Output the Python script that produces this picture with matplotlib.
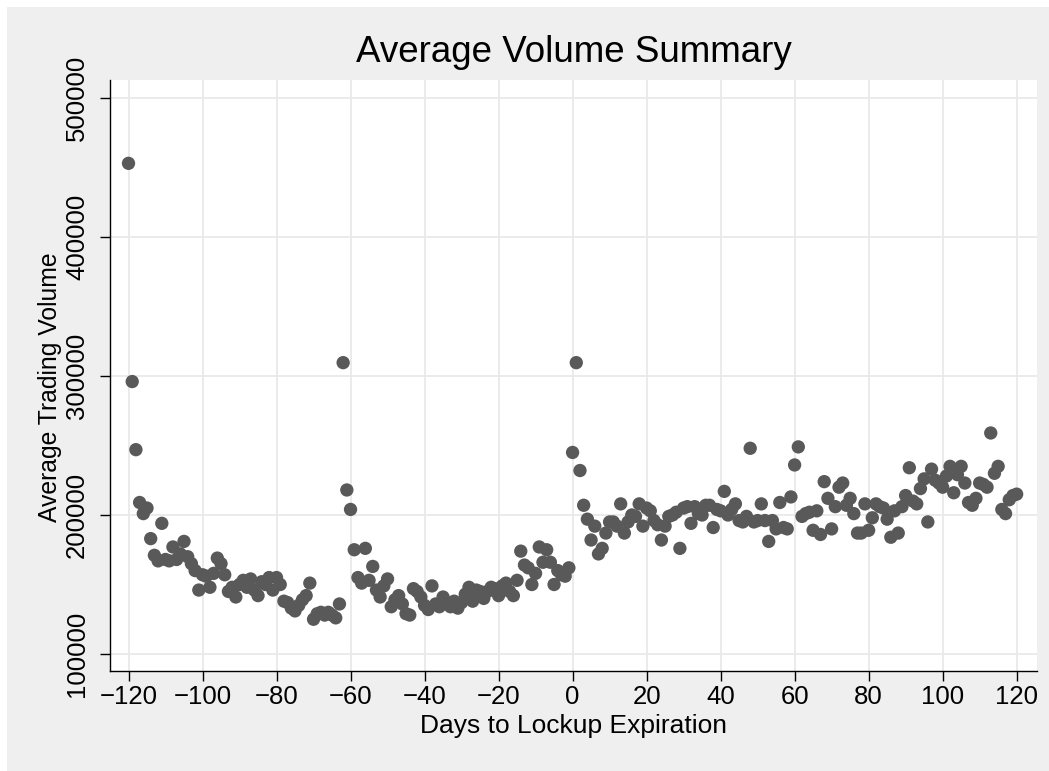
import numpy as np
import matplotlib
matplotlib.use("Agg")
import matplotlib.pyplot as plt
from matplotlib.patches import Rectangle

# days relative to lockup expiration
days = np.arange(-120, 121)

# average trading volume per day
vol_pre_120 = [453000, 296000, 247000, 209000, 201000, 205000, 183000, 171000, 167000, 194000,
               168000, 167000, 177000, 168000, 172000, 181000, 170000, 165000, 160000, 146000]
vol_pre_100 = [157000, 156000, 148000, 158000, 169000, 165000, 157000, 145000, 148000, 141000,
               150000, 153000, 148000, 154000, 146000, 142000, 152000, 150000, 155000, 146000]
vol_pre_80 = [155000, 150000, 138000, 137000, 133000, 131000, 135000, 139000, 142000, 151000,
              125000, 129000, 130000, 128000, 130000, 128000, 126000, 136000, 309600, 218000]
vol_pre_60 = [204000, 175000, 155000, 151000, 176000, 153000, 163000, 146000, 141000, 149000,
              154000, 134000, 139000, 142000, 136000, 129000, 128000, 147000, 145000, 141000]
vol_pre_40 = [135000, 132000, 149000, 136000, 134000, 141000, 137000, 134000, 138000, 133000,
              137000, 143000, 148000, 138000, 146000, 145000, 140000, 145000, 148000, 147000]
vol_pre_20 = [142000, 149000, 151000, 145000, 142000, 153000, 174000, 164000, 162000, 150000,
              158000, 177000, 166000, 175000, 166000, 150000, 160000, 157000, 156000, 162000]
vol_post_0 = [245000, 309600, 232000, 207000, 197000, 182000, 192000, 172000, 176000, 187000,
              195000, 195000, 192000, 208000, 187000, 195000, 200000, 199000, 208000, 192000]
vol_post_20 = [205000, 203000, 196000, 193000, 182000, 192000, 199000, 200000, 202000, 176000,
               205000, 206000, 194000, 206000, 201000, 200000, 207000, 207000, 191000, 204000]
vol_post_40 = [203000, 217000, 200000, 204000, 208000, 196000, 195000, 199000, 248000, 195000,
               196000, 208000, 196000, 181000, 196000, 190000, 209000, 191000, 190000, 213000]
vol_post_60 = [236000, 249000, 199000, 201000, 202000, 189000, 203000, 186000, 224000, 212000,
               190000, 206000, 220000, 223000, 207000, 212000, 201000, 187000, 187000, 208000]
vol_post_80 = [189000, 198000, 208000, 206000, 205000, 197000, 184000, 203000, 187000, 206000,
               214000, 234000, 210000, 208000, 219000, 226000, 195000, 233000, 225000, 223000]
vol_post_100 = [220000, 228000, 235000, 216000, 229000, 235000, 223000, 209000, 207000, 212000,
                223000, 222000, 220000, 259000, 230000, 235000, 204000, 201000, 211000, 214000, 215000]

volume = (vol_pre_120 + vol_pre_100 + vol_pre_80 + vol_pre_60 + vol_pre_40 + vol_pre_20
          + vol_post_0 + vol_post_20 + vol_post_40 + vol_post_60 + vol_post_80 + vol_post_100)

x_ticks = list(range(-120, 121, 20))
y_ticks = [100000, 200000, 300000, 400000, 500000]

plt.rcParams['font.family'] = ['Liberation Sans', 'DejaVu Sans']
plt.rcParams['axes.unicode_minus'] = True

fig = plt.figure(figsize=(10.49, 7.71), dpi=100, facecolor='white')
# stata-style light gray graph region, behind the axes
fig.patches.append(Rectangle((7 / 1049, 0), 1, 1 - 7 / 771, transform=fig.transFigure,
                             facecolor='#efefef', edgecolor='none', zorder=-10))

ax = fig.add_axes([110 / 1049, 1 - 671 / 771, 927 / 1049, 591 / 771])
ax.set_facecolor('white')

ax.scatter(days, volume, s=92, color='#595959', edgecolors='none', zorder=3)

ax.set_xlim(-125, 125.5)
ax.set_ylim(87770, 512950)
ax.set_xticks(x_ticks)
ax.set_yticks(y_ticks)
ax.set_yticklabels([str(v) for v in y_ticks], rotation=90, va='center')

ax.grid(True, color='#e9e9e9', linewidth=1.3, zorder=0)
ax.set_axisbelow(True)
for side in ['top', 'right']:
    ax.spines[side].set_visible(False)
for side in ['left', 'bottom']:
    ax.spines[side].set_color('black')
    ax.spines[side].set_linewidth(1.0)

ax.tick_params(axis='both', direction='out', length=7, width=1.0, color='black', labelsize=18.5)
ax.tick_params(axis='x', pad=3)
ax.tick_params(axis='y', pad=8)

fig.text(0.5467, 1 - 53 / 771, "Average Volume Summary", ha='center', va='center', fontsize=26.5)
fig.text(0.5467, 1 - 726 / 771, "Days to Lockup Expiration", ha='center', va='center', fontsize=19)
fig.text(50 / 1049, 1 - 387 / 771, "Average Trading Volume", ha='center', va='center',
         rotation=90, fontsize=17.8)

plt.savefig("out.png", dpi=100, facecolor=fig.get_facecolor())
